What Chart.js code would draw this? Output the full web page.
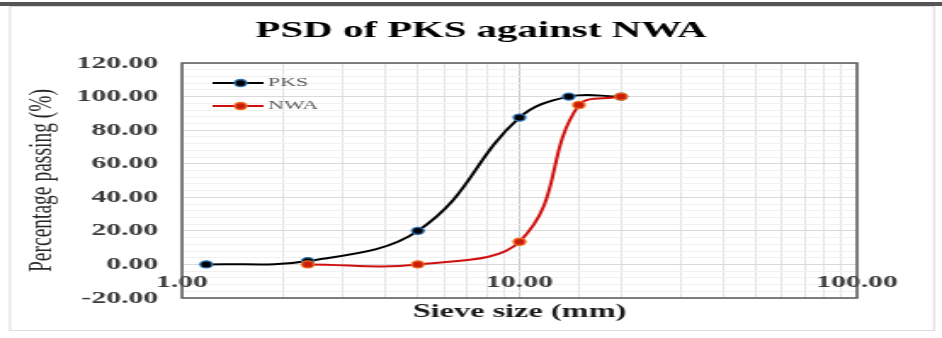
<!DOCTYPE html>
<html>
<head>
<meta charset="utf-8">
<script src="https://cdn.jsdelivr.net/npm/chart.js@4.4.1/dist/chart.umd.min.js"></script>
<style>
body { margin: 0; background: #fff; }
</style>
</head>
<body>
<!-- the original picture is squeezed sideways, so the canvas is drawn narrow and stretched by css -->
<canvas id="psdChart" width="554" height="338" style="display:block;width:942px;height:338px"></canvas>
<script>
// sieve size (mm) and percentage passing
const pksSizes = [1.18, 2.36, 5, 10, 14, 20];
const pksPassing = [0, 2, 20, 87.5, 100, 100];
const nwaSizes = [2.36, 5, 10, 15, 20];
const nwaPassing = [0, 0, 13.5, 95, 100];

// labelled ticks
const xTickLabels = [1, 10, 100];
const yTickLabels = [-20, 0, 20, 40, 60, 80, 100, 120];

const stretch = 942 / 554;
const serif = 'Liberation Serif';

function toPoints(xs, ys) {
    return xs.map(function (x, i) {
        return { x: x, y: ys[i] };
    });
}

//legend symbol: short line with the marker on it
function legendSymbol(lineColor, fill, ring) {
    const c = document.createElement('canvas');
    c.width = 42;
    c.height = 10;
    const g = c.getContext('2d');
    g.strokeStyle = lineColor;
    g.lineWidth = 2;
    g.beginPath();
    g.moveTo(12, 5);
    g.lineTo(42, 5);
    g.stroke();
    g.beginPath();
    g.arc(28.5, 5, 3.5, 0, Math.PI * 2);
    g.fillStyle = fill;
    g.fill();
    g.strokeStyle = ring;
    g.lineWidth = 1.3;
    g.stroke();
    return c;
}

const pksSymbol = legendSymbol('#000000', '#000000', '#2e75b6');
const nwaSymbol = legendSymbol('#d01010', '#c81e0a', '#f26b1d');

// frame round the plot and the outer border
const framePlugin = {
    id: 'frame',
    afterLayout(chart) {
        // legend in chartArea starts at 0, move it down into the plot
        const lg = chart.legend;
        if (lg) {
            const d = chart.chartArea.top - lg.top;
            lg.top += d;
            lg.bottom += d;
        }
    },
    beforeDraw(chart) {
        const ctx = chart.ctx;
        ctx.save();
        ctx.fillStyle = '#fff';
        ctx.fillRect(0, 0, chart.width, chart.height);
        ctx.strokeStyle = '#dcdcdc';
        ctx.lineWidth = 1;
        ctx.strokeRect(10 / stretch, 6.5, 924 / stretch, 324);
        ctx.fillStyle = '#555555';
        ctx.fillRect(0, 2, chart.width, 4);
        ctx.restore();
    },
    beforeDatasetsDraw(chart) {
        const a = chart.chartArea;
        const ctx = chart.ctx;
        ctx.save();
        ctx.strokeStyle = '#595959';
        ctx.lineWidth = 1.5;
        ctx.strokeRect(a.left, a.top, a.right - a.left, a.bottom - a.top);
        ctx.restore();
    }
};

const tickFont = { family: serif, size: 17.5, weight: 'bold' };

new Chart(document.getElementById('psdChart'), {
    type: 'scatter',
    data: {
        datasets: [
            {
                label: 'PKS',
                data: toPoints(pksSizes, pksPassing),
                showLine: true,
                tension: 0.4,
                borderColor: '#000000',
                borderWidth: 2,
                pointBackgroundColor: '#000000',
                pointBorderColor: '#2e75b6',
                pointBorderWidth: 1.3,
                pointRadius: 3.5,
                order: 1,
                xAxisID: 'x',
                yAxisID: 'y'
            },
            {
                label: 'NWA',
                data: toPoints(nwaSizes, nwaPassing),
                showLine: true,
                tension: 0.4,
                borderColor: '#d01010',
                borderWidth: 2,
                pointBackgroundColor: '#c81e0a',
                pointBorderColor: '#f26b1d',
                pointBorderWidth: 1.3,
                pointRadius: 3.5,
                order: 0,
                xAxisID: 'x',
                yAxisID: 'y'
            }
        ]
    },
    options: {
        responsive: false,
        devicePixelRatio: 1,
        animation: false,
        layout: { padding: { left: 12, right: 0, top: 0, bottom: 0 } },
        plugins: {
            tooltip: { enabled: false },
            title: {
                display: true,
                text: 'PSD of PKS against NWA',
                color: '#000000',
                font: { family: serif, size: 24, weight: 'bold', lineHeight: 1.2 },
                padding: { top: 16.5, bottom: 17.7 }
            },
            legend: {
                position: 'chartArea',
                align: 'start',
                title: { display: true, text: '', padding: 0, font: { size: 3.5, lineHeight: 1 } },
                labels: {
                    usePointStyle: true,
                    pointStyleWidth: 34,
                    padding: 10,
                    color: '#595959',
                    font: { family: serif, size: 13 },
                    generateLabels: function (chart) {
                        const symbols = [pksSymbol, nwaSymbol];
                        return chart.data.datasets.map(function (ds, i) {
                            return {
                                text: ds.label,
                                pointStyle: symbols[i],
                                datasetIndex: i,
                                hidden: false,
                                fontColor: '#595959',
                                fillStyle: 'transparent',
                                strokeStyle: 'transparent',
                                lineWidth: 0
                            };
                        });
                    }
                }
            }
        },
        scales: {
            x: {
                type: 'logarithmic',
                min: 1,
                max: 100,
                position: { y: 0 },
                border: { display: false },
                grid: {
                    drawTicks: false,
                    color: function (ctx) {
                        return xTickLabels.includes(ctx.tick.value) ? '#cccccc' : '#e4e4e4';
                    }
                },
                ticks: {
                    autoSkip: false,
                    maxRotation: 0,
                    padding: 8,
                    color: '#3a3a3a',
                    font: tickFont,
                    callback: function (v) {
                        return xTickLabels.includes(v) ? v.toFixed(2) : '';
                    }
                }
            },
            xb: {
                type: 'linear',
                position: 'bottom',
                grid: { display: false, drawTicks: false },
                border: { display: false },
                ticks: { display: false },
                title: {
                    display: true,
                    text: 'Sieve size (mm)',
                    color: '#1a1a1a',
                    font: { family: serif, size: 19, weight: 'bold', lineHeight: 1.2 },
                    padding: { top: 2.2, bottom: 15 }
                }
            },
            y: {
                min: -20,
                max: 120,
                position: 'left',
                border: { display: false },
                grid: {
                    drawTicks: false,
                    color: function (ctx) {
                        return yTickLabels.includes(ctx.tick.value) ? '#d9d9d9' : '#f1f1f1';
                    }
                },
                ticks: {
                    stepSize: 4,
                    autoSkip: false,
                    padding: 14,
                    color: '#3a3a3a',
                    font: tickFont,
                    callback: function (v) {
                        return yTickLabels.includes(v) ? v.toFixed(2) : '';
                    }
                },
                title: {
                    display: true,
                    text: 'Percentage passing (%)',
                    color: '#262626',
                    font: { family: serif, size: 19.5, lineHeight: 1.2 },
                    padding: { top: 1, bottom: 0 }
                },
                afterFit: function (scale) {
                    scale.width = 95;
                }
            },
            yr: {
                type: 'linear',
                position: 'right',
                grid: { display: false, drawTicks: false },
                border: { display: false },
                ticks: { display: false },
                afterFit: function (scale) {
                    scale.width = 50;
                }
            }
        }
    },
    plugins: [framePlugin]
});
</script>
</body>
</html>
